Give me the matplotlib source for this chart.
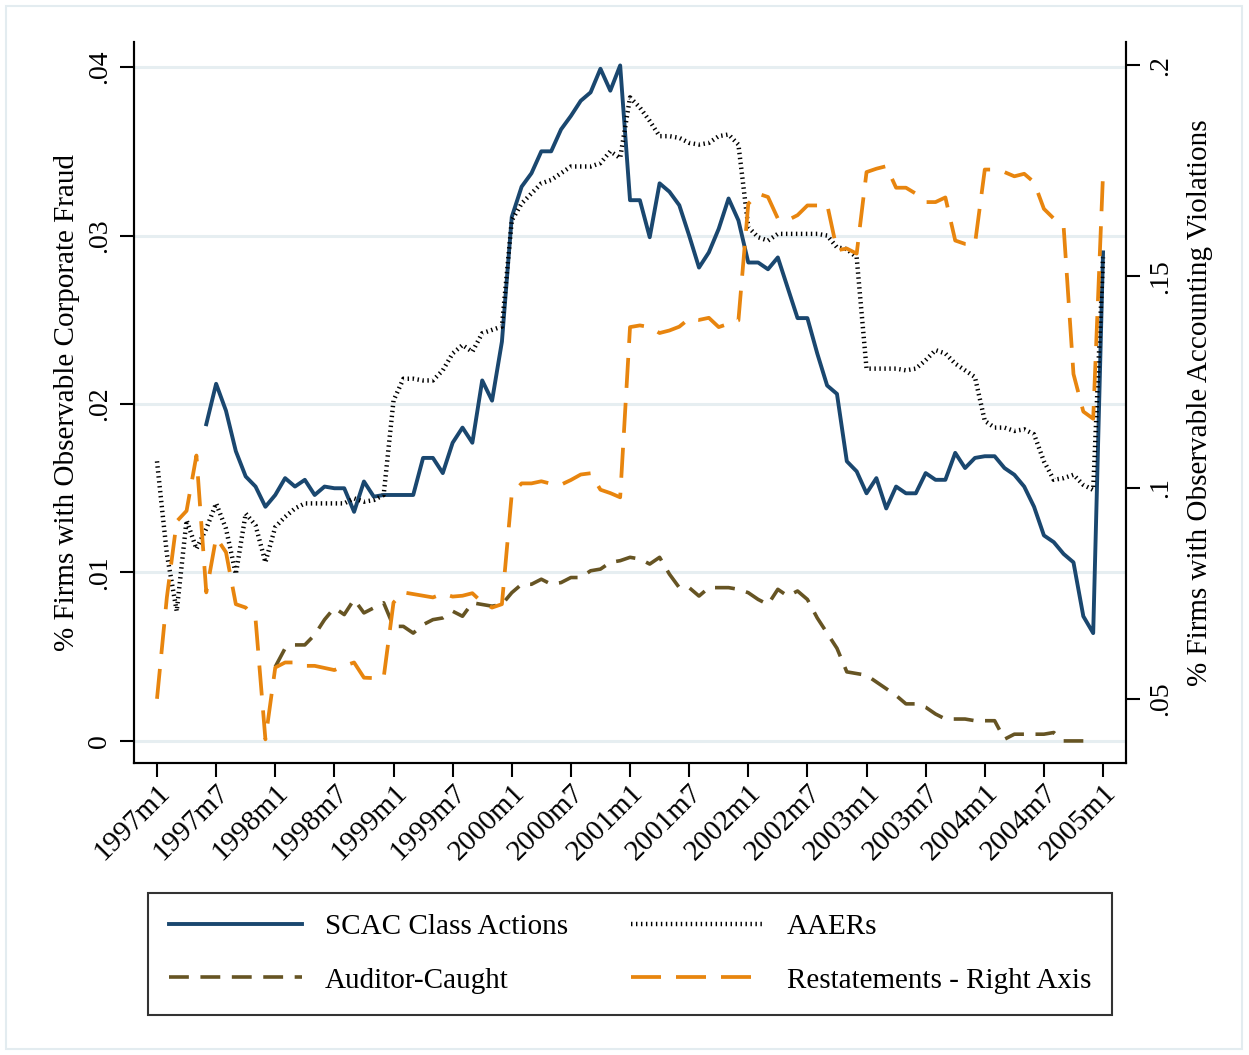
import numpy as np
import matplotlib
matplotlib.use("Agg")
import matplotlib.pyplot as plt
from matplotlib.patches import Rectangle

nan = np.nan

# ---------------- data ----------------
tick_labels = ["1997m1", "1997m7", "1998m1", "1998m7", "1999m1", "1999m7",
               "2000m1", "2000m7", "2001m1", "2001m7", "2002m1", "2002m7",
               "2003m1", "2003m7", "2004m1", "2004m7", "2005m1"]
n_months = 97  # 1997m1 .. 2005m1

scac = [nan, nan, nan, nan, nan,
        0.0188, 0.0212, 0.0196, 0.0172, 0.0157, 0.0151, 0.0139, 0.0146, 0.0156, 0.0151,
        0.0155, 0.0146, 0.0151, 0.0150, 0.0150, 0.0136, 0.0154, 0.0145, 0.0146, 0.0146,
        0.0146, 0.0146, 0.0168, 0.0168, 0.0159, 0.0177, 0.0186, 0.0177, 0.0214, 0.0202,
        0.0237, 0.0311, 0.0329, 0.0337, 0.0350, 0.0350, 0.0363, 0.0371, 0.0380, 0.0385,
        0.0399, 0.0386, 0.0401, 0.0321, 0.0321, 0.0299, 0.0331, 0.0326, 0.0318, 0.0300,
        0.0281, 0.0290, 0.0304, 0.0322, 0.0309, 0.0284, 0.0284, 0.0280, 0.0287, 0.0269,
        0.0251, 0.0251, 0.0230, 0.0211, 0.0206, 0.0166, 0.0160, 0.0147, 0.0156, 0.0138,
        0.0151, 0.0147, 0.0147, 0.0159, 0.0155, 0.0155, 0.0171, 0.0162, 0.0168, 0.0169,
        0.0169, 0.0162, 0.0158, 0.0151, 0.0139, 0.0122, 0.0118, 0.0111, 0.0106, 0.0074,
        0.0064, 0.0290]

aaers = [0.0166, 0.0111, 0.0077, 0.0131, 0.0114, 0.0126, 0.0141, 0.0126, 0.0099, 0.0135,
         0.0128, 0.0106, 0.0127, 0.0133, 0.0138, 0.0141, 0.0141, 0.0141, 0.0141, 0.0141,
         0.0144, 0.0142, 0.0143, 0.0146, 0.0202, 0.0215, 0.0215, 0.0214, 0.0214, 0.0220,
         0.0230, 0.0235, 0.0231, 0.0242, 0.0244, 0.0246, 0.0309, 0.0319, 0.0325, 0.0331,
         0.0333, 0.0337, 0.0341, 0.0341, 0.0341, 0.0343, 0.0350, 0.0346, 0.0382, 0.0376,
         0.0368, 0.0359, 0.0359, 0.0358, 0.0355, 0.0354, 0.0355, 0.0359, 0.0360, 0.0354,
         0.0305, 0.0299, 0.0297, 0.0301, 0.0301, 0.0301, 0.0301, 0.0301, 0.0300, 0.0293,
         0.0292, 0.0287, 0.0221, 0.0221, 0.0221, 0.0221, 0.0220, 0.0221, 0.0226, 0.0232,
         0.0230, 0.0224, 0.0220, 0.0216, 0.0190, 0.0186, 0.0186, 0.0184, 0.0185, 0.0182,
         0.0166, 0.0155, 0.0156, 0.0158, 0.0152, 0.0149, 0.0287]

auditor = [nan, nan, nan, nan, nan, nan, nan, nan, nan, nan, nan, nan,
           0.0044, 0.0055, 0.0057, 0.0057, 0.0063, 0.0072, 0.0079, 0.0075, 0.0084, 0.0076,
           0.0079, 0.0082, 0.0068, 0.0068, 0.0064, 0.0069, 0.0072, 0.0073, 0.0077, 0.0074,
           0.0082, 0.0081, 0.0080, 0.0081, 0.0088, 0.0093, 0.0093, 0.0096, 0.0093, 0.0094,
           0.0097, 0.0097, 0.0101, 0.0102, 0.0106, 0.0107, 0.0109, 0.0108, 0.0105, 0.0109,
           0.0099, 0.0091, 0.0091, 0.0086, 0.0091, 0.0091, 0.0091, 0.0090, 0.0088, 0.0084,
           0.0081, 0.0090, 0.0086, 0.0089, 0.0084, 0.0073, 0.0064, 0.0055, 0.0041, 0.0040,
           0.0039, 0.0035, 0.0031, 0.0027, 0.0022, 0.0022, 0.0020, 0.0016, 0.0013, 0.0013,
           0.0013, 0.0012, 0.0012, 0.0012, 0.0001, 0.0004, 0.0004, 0.0004, 0.0004, 0.0005,
           0.0000, 0.0000, 0.0000, nan, nan]

restatements = [0.0500, 0.0740, 0.0920, 0.0945, 0.1076, 0.0752, 0.0882, 0.0847, 0.0724, 0.0716,
                0.0689, 0.0404, 0.0574, 0.0586, 0.0586, 0.0578, 0.0578, 0.0573, 0.0568, 0.0578,
                0.0586, 0.0550, 0.0549, 0.0550, 0.0728, 0.0752, 0.0748, 0.0744, 0.0740, 0.0749,
                0.0742, 0.0744, 0.0750, 0.0728, 0.0716, 0.0724, 0.0985, 0.1010, 0.1010, 0.1015,
                0.1009, 0.1007, 0.1018, 0.1031, 0.1034, 0.0995, 0.0987, 0.0977, 0.1380, 0.1384,
                0.1380, 0.1366, 0.1372, 0.1381, 0.1400, 0.1397, 0.1402, 0.1380, 0.1388, 0.1396,
                0.1672, 0.1696, 0.1688, 0.1637, 0.1633, 0.1645, 0.1668, 0.1668, 0.1671, 0.1562,
                0.1566, 0.1554, 0.1747, 0.1755, 0.1761, 0.1710, 0.1710, 0.1696, 0.1676, 0.1676,
                0.1687, 0.1585, 0.1577, 0.1576, 0.1753, 0.1753, 0.1747, 0.1737, 0.1743, 0.1723,
                0.1660, 0.1637, 0.1618, 0.1269, 0.1180, 0.1163, 0.1743]

left_ticks = [0.0, 0.01, 0.02, 0.03, 0.04]
left_tick_labels = ["0", ".01", ".02", ".03", ".04"]
right_ticks = [0.05, 0.10, 0.15, 0.20]
right_tick_labels = [".05", ".1", ".15", ".2"]

# ---------------- style ----------------
plt.rcParams["font.family"] = ["Liberation Serif", "DejaVu Serif"]
W, H = 1249, 1055
fig = plt.figure(figsize=(W / 100, H / 100), dpi=100)
ax = fig.add_axes([134 / W, 1 - 763 / H, (1126 - 134) / W, (763 - 42) / H])
ax2 = ax.twinx()

x = np.arange(n_months)

navy = "#1a476f"
brown = "#665423"
orange = "#e8850e"
gridc = "#e6eef1"

for y in left_ticks:
    ax.axhline(y, color=gridc, lw=2.2, zorder=0)

l1, = ax.plot(x, scac, color=navy, lw=2.8, label="SCAC Class Actions", zorder=3)
l3, = ax.plot(x, auditor, color=brown, lw=2.6, linestyle=(0, (5.5, 3.2)),
              label="Auditor-Caught", zorder=3)
l2, = ax.plot(x, aaers, color="#000000", lw=3.2, linestyle=(0, (0.32, 0.8)),
              dash_capstyle="butt", label="AAERs", zorder=3)
l4, = ax2.plot(x, restatements, color=orange, lw=2.7, linestyle=(0, (8.0, 4.0)),
               label="Restatements - Right Axis", zorder=3)

ax.set_xlim(-2.334, 98.33)
ax.set_ylim(-0.00131, 0.04149)
ax2.set_ylim(0.0348, 0.2055)

ax.set_xticks(np.arange(0, n_months, 6))
ax.set_xticklabels(tick_labels, rotation=45, ha="right", va="top",
                   rotation_mode="anchor", fontsize=21)
ax.set_yticks(left_ticks)
ax.set_yticklabels(left_tick_labels, rotation=90, va="center", fontsize=20)
ax2.set_yticks(right_ticks)
ax2.set_yticklabels(right_tick_labels, rotation=90, va="center", fontsize=20)

for a in (ax, ax2):
    a.spines["top"].set_visible(False)
    for s in ("left", "right", "bottom"):
        a.spines[s].set_linewidth(1.5)
        a.spines[s].set_color("black")
    a.tick_params(length=10, width=1.5, colors="black")
ax.tick_params(axis="y", pad=6)
ax.tick_params(axis="x", pad=2)
ax2.tick_params(axis="y", pad=6)

ax.set_ylabel("% Firms with Observable Corporate Fraud", fontsize=21, labelpad=5)
ax2.set_ylabel("% Firms with Observable Accounting Violations", fontsize=21,
               rotation=90, labelpad=10)

leg = fig.legend(handles=[l1, l3, l2, l4], ncol=2, loc="upper left",
                 bbox_to_anchor=(148 / W, 1 - 893 / H - 0.01, (1112 - 148) / W, 0.01),
                 mode="expand", fontsize=21, frameon=True, fancybox=False,
                 edgecolor="black", handlelength=4.55, handletextpad=0.8,
                 borderpad=0.72, labelspacing=0.92, columnspacing=1.6,
                 borderaxespad=0)
leg.get_frame().set_linewidth(1.5)

fig.patches.append(Rectangle((6 / W, 1 - 1049 / H), (1242 - 6) / W, (1049 - 6) / H,
                             transform=fig.transFigure, fill=False,
                             edgecolor="#e3ecf0", lw=1.5))

fig.savefig("out.png", dpi=100, facecolor="white")
